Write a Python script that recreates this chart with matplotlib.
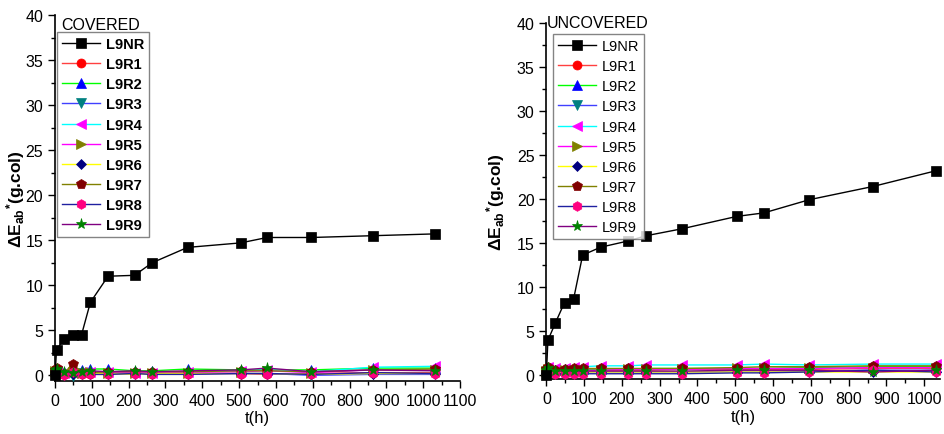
import matplotlib
matplotlib.use("Agg")
import matplotlib.pyplot as plt
from matplotlib.ticker import MultipleLocator

plt.rcParams["font.family"] = ["Liberation Sans", "DejaVu Sans"]
plt.rcParams["mathtext.fontset"] = "custom"
plt.rcParams["mathtext.rm"] = "Liberation Sans"
plt.rcParams["mathtext.bf"] = "Liberation Sans:bold"
plt.rcParams["mathtext.it"] = "Liberation Sans:italic"

# time points (h)
T = [0, 4, 24, 48, 72, 96, 144, 216, 264, 360, 504, 576, 696, 864, 1032]

labels = ["L9NR", "L9R1", "L9R2", "L9R3", "L9R4", "L9R5", "L9R6", "L9R7", "L9R8", "L9R9"]

# covered samples
cov_NR = [0, 2.8, 4.0, 4.5, 4.5, 8.1, 11.0, 11.1, 12.5, 14.2, 14.7, 15.3, 15.3, 15.5, 15.7]
cov_R1 = [0.5, 0.6, 0.1, 0.4, 0.1, 0.1, 0.1, 0.3, 0.1, 0.2, 0.2, 0.1, 0.2, 0.3, 0.3]
cov_R2 = [0.6, 0.7, 0.4, 0.5, 0.6, 0.7, 0.7, 0.5, 0.5, 0.7, 0.6, 0.6, 0.6, 0.8, 0.8]
cov_R3 = [0.3, 0.3, 0.1, -0.05, 0.3, 0.2, 0.2, 0.2, 0.2, 0.2, 0.2, 0.2, 0.0, 0.1, 0.1]
cov_R4 = [0.4, 0.5, 0.3, 0.3, 0.4, 0.4, 0.4, 0.3, 0.3, 0.4, 0.5, 0.6, 0.4, 0.9, 1.0]
cov_R5 = [0.5, 0.5, 0.3, 0.4, 0.3, 0.4, 0.3, 0.3, 0.3, 0.3, 0.4, 0.5, 0.3, 0.6, 0.6]
cov_R6 = [0.2, 0.2, 0.1, 0.2, 0.2, 0.2, 0.2, 0.1, 0.2, 0.2, 0.2, 0.2, 0.1, 0.2, 0.2]
cov_R7 = [0.6, 0.8, 0.2, 1.3, 0.3, 0.3, 0.4, 0.4, 0.4, 0.4, 0.5, 0.5, 0.4, 0.6, 0.7]
cov_R8 = [0.3, 0.3, 0.0, 0.4, 0.1, 0.1, 0.1, 0.2, 0.1, 0.1, 0.2, 0.2, 0.1, 0.3, 0.2]
cov_R9 = [0.6, 0.7, 0.4, 0.3, 0.4, 0.5, 0.4, 0.5, 0.4, 0.5, 0.6, 0.8, 0.4, 0.6, 0.5]

# uncovered samples
unc_NR = [0, 3.9, 5.9, 8.2, 8.6, 13.6, 14.5, 15.2, 15.8, 16.6, 18.0, 18.4, 19.9, 21.4, 23.2]
unc_R1 = [0.4, 0.6, 0.4, 0.5, 0.5, 0.5, 0.5, 0.5, 0.5, 0.6, 0.6, 0.6, 0.6, 0.7, 0.7]
unc_R2 = [0.5, 0.7, 0.5, 0.6, 0.6, 0.6, 0.6, 0.6, 0.7, 0.7, 0.7, 0.7, 0.8, 0.9, 0.9]
unc_R3 = [0.2, 0.3, 0.2, 0.3, 0.3, 0.3, 0.3, 0.3, 0.3, 0.3, 0.4, 0.4, 0.4, 0.5, 0.5]
unc_R4 = [0.7, 0.9, 0.7, 0.8, 0.9, 0.9, 1.0, 1.0, 1.1, 1.1, 1.1, 1.2, 1.1, 1.2, 1.2]
unc_R5 = [0.4, 0.6, 0.4, 0.5, 0.5, 0.5, 0.5, 0.6, 0.6, 0.6, 0.7, 0.7, 0.7, 0.8, 0.8]
unc_R6 = [0.2, 0.3, 0.2, 0.2, 0.2, 0.3, 0.3, 0.3, 0.3, 0.3, 0.3, 0.3, 0.3, 0.3, 0.3]
unc_R7 = [0.6, 0.9, 0.5, 0.6, 0.7, 0.7, 0.7, 0.7, 0.7, 0.7, 0.8, 0.9, 0.9, 1.0, 1.0]
unc_R8 = [0.1, 0.3, 0.1, 0.1, 0.1, 0.1, 0.1, 0.1, 0.1, 0.1, 0.2, 0.2, 0.3, 0.5, 0.3]
unc_R9 = [0.5, 0.7, 0.4, 0.4, 0.4, 0.4, 0.4, 0.4, 0.4, 0.4, 0.5, 0.5, 0.5, 0.3, 0.5]

covered = [cov_NR, cov_R1, cov_R2, cov_R3, cov_R4, cov_R5, cov_R6, cov_R7, cov_R8, cov_R9]
uncovered = [unc_NR, unc_R1, unc_R2, unc_R3, unc_R4, unc_R5, unc_R6, unc_R7, unc_R8, unc_R9]

# origin-like styles: marker colour and line colour differ
markers = ["s", "o", "^", "v", "<", ">", "D", "p", "h", "*"]
mcolors = ["#000000", "#ff0000", "#0000ff", "#008080", "#ff00ff",
           "#808000", "#000080", "#800000", "#ff0080", "#008000"]
lcolors = ["#000000", "#ff4040", "#00ff00", "#4040ff", "#00ffff",
           "#ff00ff", "#ffff00", "#808000", "#2020a0", "#800080"]
msizes = [6.5, 6.5, 6.5, 6.5, 6.5, 6.5, 5.5, 7, 7, 8]

fig = plt.figure(figsize=(9.44, 4.35), dpi=100)
ax1 = fig.add_axes([0.0583, 0.1225, 0.4290, 0.8407])
ax2 = fig.add_axes([0.5788, 0.1264, 0.4170, 0.8184])

ylab = r"$\mathbf{\Delta E_{ab}}{}^{\mathbf{*}}$(g.col)"


def draw(ax, data, xmax, ymin, title, bold, leg_anchor, title_xy):
    for i in range(len(data)):
        ax.plot(T, data[i], color=lcolors[i], lw=1.0, marker=markers[i],
                ms=msizes[i], mfc=mcolors[i], mec=mcolors[i], mew=0.5,
                label=labels[i], clip_on=False, zorder=3 + (i == 0))
    ax.set_xlim(0, xmax)
    ax.set_ylim(ymin, 40)
    ax.xaxis.set_major_locator(MultipleLocator(100))
    ax.xaxis.set_minor_locator(MultipleLocator(50))
    ax.yaxis.set_major_locator(MultipleLocator(5))
    ax.yaxis.set_minor_locator(MultipleLocator(2.5))
    ax.spines["top"].set_visible(False)
    ax.spines["right"].set_visible(False)
    for s in ("left", "bottom"):
        ax.spines[s].set_linewidth(1.2)
    ax.tick_params(which="major", direction="out", length=5, width=1.0, labelsize=11.5)
    ax.tick_params(which="minor", direction="out", length=3, width=1.0)
    ax.set_xlabel("t(h)", fontsize=12, labelpad=2)
    ax.set_ylabel(ylab, fontsize=12.5, fontweight="bold")
    leg = ax.legend(loc="upper left", bbox_to_anchor=leg_anchor,
                    bbox_transform=fig.transFigure, frameon=True, fancybox=False,
                    edgecolor="#666666", handlelength=2.6,
                    handletextpad=0.4, labelspacing=0.42, borderpad=0.35,
                    borderaxespad=0, prop={"size": 10.5, "weight": "bold" if bold else "normal"})
    leg.get_frame().set_linewidth(1.0)
    fig.text(title_xy[0], title_xy[1], title, fontsize=11.5, ha="left", va="center")


draw(ax1, covered, 1100, -0.6, "COVERED", True, (57 / 944, 1 - 33 / 435), (61 / 944, 1 - 25 / 435))
draw(ax2, uncovered, 1042, -0.5, "UNCOVERED", False, (553 / 944, 1 - 35 / 435), (547 / 944, 1 - 24 / 435))

ax1.yaxis.set_label_coords(-0.07, 0.5)
ax2.yaxis.set_label_coords(-0.10, 0.5)

fig.savefig("out.png", dpi=100)
